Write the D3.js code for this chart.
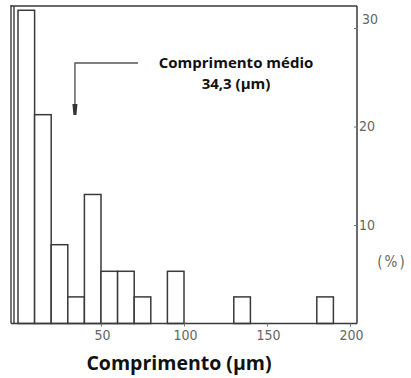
<!DOCTYPE html>
<html>
<head>
<meta charset="utf-8">
<script src="https://cdn.jsdelivr.net/npm/d3@7"></script>
<style>
  body { margin: 0; background: #fff; }
  svg { display: block; }
</style>
</head>
<body>
<svg id="chart"></svg>
<script>
// histogram bins (µm) and share of fibres (%)
const binStart = [0, 10, 20, 30, 40, 50, 60, 70, 90, 130, 180];
const binWidth = 10;
const percent = [31.8, 21.2, 8.0, 2.7, 13.1, 5.3, 5.3, 2.7, 5.3, 2.7, 2.7];
const xTicks = [50, 100, 150, 200];
const yTicks = [10, 20, 30];
const meanLength = 34.3;
const meanLabel = ["Comprimento médio", "34,3 (µm)"];

const W = 411, H = 378;
const svg = d3.select("#chart").attr("width", W).attr("height", H);

const x = d3.scaleLinear().domain([0, 200]).range([18, 350]);
const y = d3.scaleLinear().domain([0, 30]).range([323.5, 28]);
const ink = "#3a3a3a";

// frame (scanned figure has a double left edge)
const frame = svg.append("g").attr("fill", "none").attr("stroke", ink).attr("stroke-width", 1.4);
frame.append("line").attr("x1", 11).attr("x2", 11).attr("y1", 5).attr("y2", y(0));
frame.append("line").attr("x1", 14).attr("x2", 14).attr("y1", 6).attr("y2", y(0));
frame.append("line").attr("x1", 11).attr("x2", 357).attr("y1", 6).attr("y2", 6);

// bars
svg.append("g").selectAll("rect")
  .data(binStart.map((b, i) => ({ b, v: percent[i] })))
  .join("rect")
    .attr("x", d => x(d.b))
    .attr("width", d => x(d.b + binWidth) - x(d.b))
    .attr("y", d => y(d.v))
    .attr("height", d => y(0) - y(d.v))
    .attr("fill", "#fff")
    .attr("stroke", ink)
    .attr("stroke-width", 1.5);

// bottom axis
const xAxis = svg.append("g").attr("transform", `translate(0,${y(0)})`)
  .call(d3.axisBottom(x).tickValues(xTicks).tickSize(3).tickPadding(4).tickSizeOuter(0));
xAxis.select(".domain").attr("d", `M11,0H357`).attr("stroke", ink).attr("stroke-width", 1.5);
xAxis.selectAll(".tick line").attr("stroke", "#777");
xAxis.selectAll(".tick text")
  .attr("fill", "#666").attr("font-family", "DejaVu Sans Condensed").attr("font-size", 14)
  .attr("dx", 1);

// right axis
const yAxis = svg.append("g").attr("transform", "translate(357,0)")
  .call(d3.axisRight(y).tickValues(yTicks).tickSize(-3).tickPadding(2).tickSizeOuter(0));
yAxis.select(".domain").attr("d", `M0,6V${y(0)}`).attr("stroke", ink).attr("stroke-width", 1.5);
yAxis.selectAll(".tick line").attr("stroke", "#777");
yAxis.selectAll(".tick text")
  .attr("fill", "#666").attr("font-family", "DejaVu Sans Condensed").attr("font-size", 14)
  .attr("dx", d => d === 30 ? 3 : 0)
  .attr("dy", d => d === 30 ? "-0.35em" : "0.32em");

svg.append("text")
  .attr("x", 392).attr("y", 267)
  .attr("text-anchor", "middle")
  .attr("fill", "#666").attr("font-family", "DejaVu Sans Condensed").attr("font-size", 15)
  .attr("letter-spacing", 2)
  .text("(%)");

// mean arrow
const ax = x(meanLength);
svg.append("path")
  .attr("d", `M138,63H${ax}V106`)
  .attr("fill", "none").attr("stroke", "#555").attr("stroke-width", 1.4);
svg.append("path")
  .attr("d", `M${ax - 2.5},104L${ax + 2.5},104L${ax + 1.5},115L${ax - 1.5},115Z`)
  .attr("fill", "#333");

// annotation text, one text per line
meanLabel.forEach((t, i) => svg.append("text")
  .attr("x", 236).attr("y", 68 + i * 20.5)
  .attr("text-anchor", "middle")
  .attr("font-family", "Open Sans").attr("font-weight", "bold").attr("font-size", 15)
  .attr("fill", "#111")
  .text(t));

// x axis title
svg.append("text")
  .attr("x", 179).attr("y", 370)
  .attr("text-anchor", "middle")
  .attr("font-family", "Open Sans").attr("font-weight", "bold").attr("font-size", 19.5)
  .attr("fill", "#111")
  .text("Comprimento (µm)");
</script>
</body>
</html>
